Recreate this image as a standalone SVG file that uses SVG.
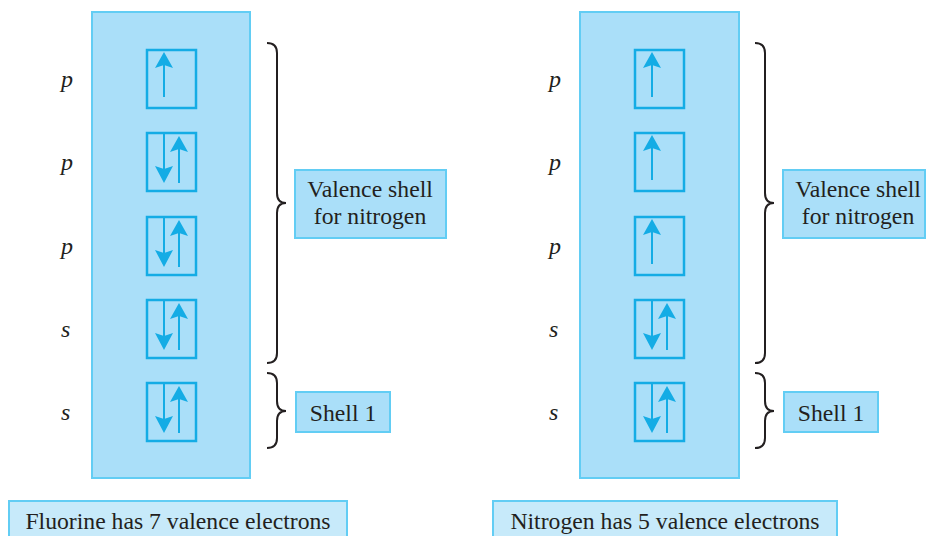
<svg xmlns="http://www.w3.org/2000/svg" width="927" height="536" viewBox="0 0 927 536">
  <style>
    .panel { fill: #aadff9; stroke: #62cdf4; stroke-width: 2; }
    .orb { fill: none; stroke: #14ace5; stroke-width: 2.5; }
    .spin { stroke: #14ace5; stroke-width: 2; fill: none; }
    .head { fill: #14ace5; }
    .lvl { font-family: "Liberation Serif", serif; font-style: italic; font-size: 24px; fill: #231f20; }
    .lbl { fill: #aadff9; stroke: #62cdf4; stroke-width: 2; }
    .cap { fill: #c7eafa; stroke: #62cdf4; stroke-width: 2; }
    .txt { font-family: "Liberation Serif", serif; font-size: 23.7px; fill: #231f20; text-anchor: middle; }
    .brace { fill: none; stroke: #231f20; stroke-width: 2; }
  </style>
  <defs>
    <!-- half-filled orbital: one spin up -->
    <g id="up1">
      <rect class="orb" x="0" y="0" width="49" height="58"/>
      <line class="spin" x1="17" y1="47" x2="17" y2="12"/>
      <path class="head" d="M17 2 L26 18 L17 15 L8 18 Z"/>
    </g>
    <!-- filled orbital: paired spins -->
    <g id="pair">
      <rect class="orb" x="0" y="0" width="49" height="58"/>
      <line class="spin" x1="17" y1="0" x2="17" y2="40"/>
      <path class="head" d="M17 50 L26 33 L17 36 L8 33 Z"/>
      <line class="spin" x1="32" y1="50" x2="32" y2="12"/>
      <path class="head" d="M32 3 L41 19 L32 16 L23 19 Z"/>
    </g>
  </defs>

  <!-- Fluorine -->
  <g id="fluorine">
    <rect class="panel" x="92" y="12" width="158" height="466"/>
    <text class="lvl" x="61" y="87">p</text>
    <text class="lvl" x="61" y="170">p</text>
    <text class="lvl" x="61" y="254">p</text>
    <text class="lvl" x="61" y="337">s</text>
    <text class="lvl" x="61" y="420">s</text>
    <use href="#up1" x="147" y="50"/>
    <use href="#pair" x="147" y="133"/>
    <use href="#pair" x="147" y="217"/>
    <use href="#pair" x="147" y="300"/>
    <use href="#pair" x="147" y="383"/>
  </g>
  <g id="fluorine-valence-label">
    <rect class="lbl" x="295" y="170" width="151" height="68"/>
    <text class="txt" x="370" y="197">Valence shell</text>
    <text class="txt" x="370" y="224">for nitrogen</text>
  </g>
  <g id="fluorine-shell1-label">
    <rect class="lbl" x="296" y="392" width="94" height="40"/>
    <text class="txt" x="343" y="421">Shell 1</text>
  </g>
  <g id="fluorine-caption">
    <rect class="cap" x="9" y="501" width="338" height="40"/>
    <text class="txt" x="178" y="529">Fluorine has 7 valence electrons</text>
  </g>

  <!-- Nitrogen -->
  <g id="nitrogen">
    <rect class="panel" x="580" y="12" width="159" height="466"/>
    <text class="lvl" x="549" y="87">p</text>
    <text class="lvl" x="549" y="170">p</text>
    <text class="lvl" x="549" y="254">p</text>
    <text class="lvl" x="549" y="337">s</text>
    <text class="lvl" x="549" y="420">s</text>
    <use href="#up1" x="635" y="50"/>
    <use href="#up1" x="635" y="133"/>
    <use href="#up1" x="635" y="217"/>
    <use href="#pair" x="635" y="300"/>
    <use href="#pair" x="635" y="383"/>
  </g>
  <g id="nitrogen-valence-label">
    <rect class="lbl" x="783" y="170" width="142" height="68"/>
    <text class="txt" x="858" y="197">Valence shell</text>
    <text class="txt" x="858" y="224">for nitrogen</text>
  </g>
  <g id="nitrogen-shell1-label">
    <rect class="lbl" x="784" y="392" width="94" height="40"/>
    <text class="txt" x="831" y="421">Shell 1</text>
  </g>
  <g id="nitrogen-caption">
    <rect class="cap" x="493" y="501" width="344" height="40"/>
    <text class="txt" x="665" y="529">Nitrogen has 5 valence electrons</text>
  </g>

  <!-- braces -->
  <g id="connectors">
    <path class="brace" d="M267 43 Q277 43 277 53 L277 193 Q277 203 286 203 Q277 203 277 213 L277 353 Q277 363 267 363"/>
    <path class="brace" d="M267 373 Q277 373 277 383 L277 401 Q277 411 286 411 Q277 411 277 421 L277 438 Q277 448 267 448"/>
    <path class="brace" d="M755 43 Q765 43 765 53 L765 193 Q765 203 774 203 Q765 203 765 213 L765 353 Q765 363 755 363"/>
    <path class="brace" d="M755 373 Q765 373 765 383 L765 401 Q765 411 774 411 Q765 411 765 421 L765 438 Q765 448 755 448"/>
  </g>
</svg>
